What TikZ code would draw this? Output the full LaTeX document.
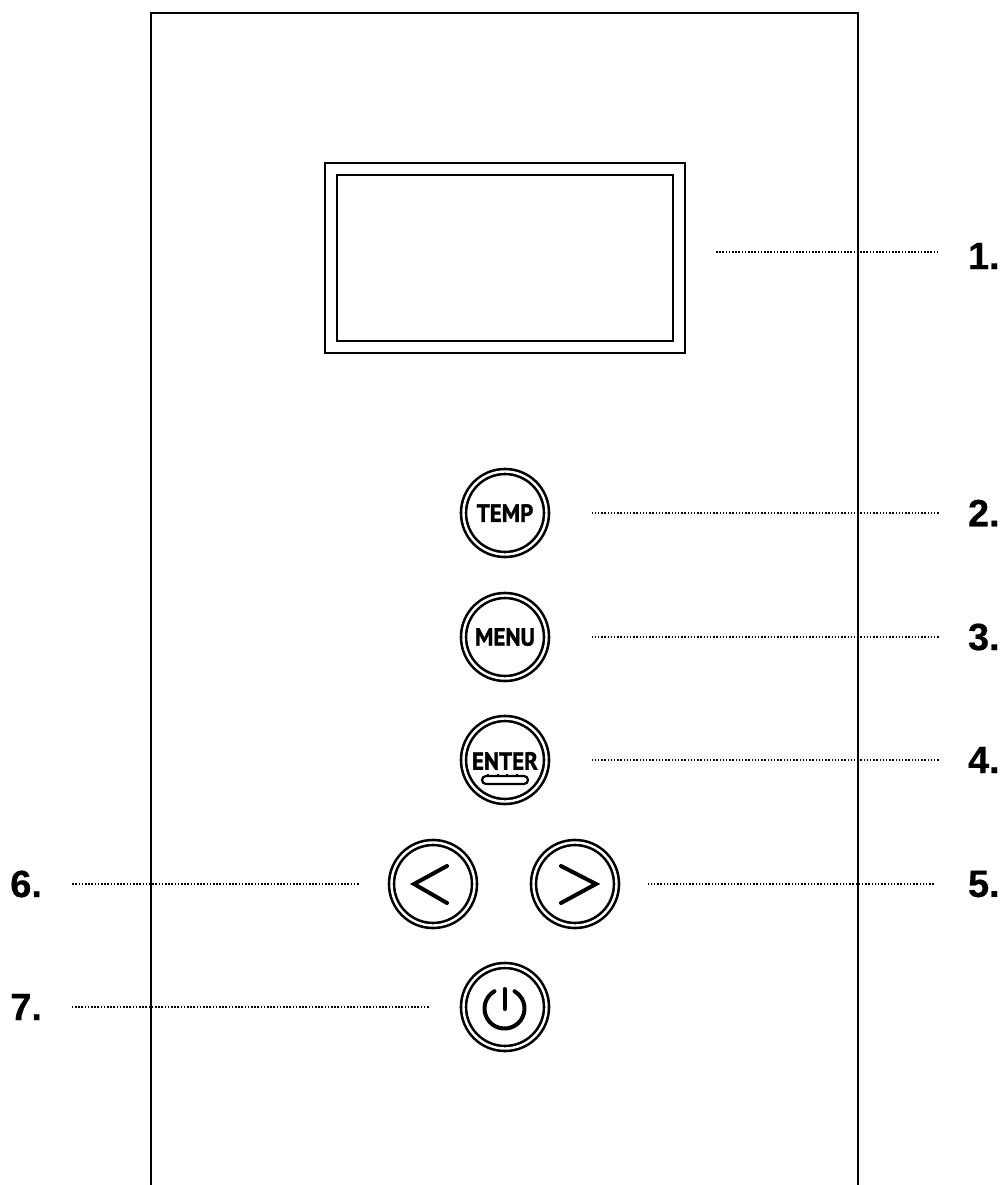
\documentclass[tikz,border=0pt]{standalone}
\usepackage{fontspec}
\setmainfont[BoldFeatures={FakeBold=0.4}]{Liberation Sans}
\newfontfamily\btnfont[FakeStretch=0.92,BoldFeatures={FakeBold=1.2}]{PT Sans}
\usetikzlibrary{shapes,arrows}
\tikzstyle{button} = [circle, draw, line width=2.6pt, double, double distance=2.4pt, minimum size=83pt, inner sep=0pt, outer sep=0pt, font=\btnfont\bfseries\fontsize{25}{25}\selectfont]
\tikzstyle{screen} = [rectangle, draw, line width=2.9pt, inner sep=0pt, outer sep=0pt]
\tikzstyle{tag} = [inner sep=0pt, outer sep=0pt, font=\bfseries\fontsize{38}{38}\selectfont]
\tikzstyle{leader} = [draw, line width=1.4pt, dash pattern=on 1.5pt off 1.7pt]
\tikzstyle{icon} = [draw, line width=4pt, line cap=round, line join=miter]

\begin{document}
\begin{tikzpicture}[x=1pt,y=-1pt]
\useasboundingbox (0,0) rectangle (1001,1185);

\draw [line width=2.8pt] (151,1185) -- (151,13) -- (858,13) -- (858,1185);

\node [screen, minimum width=360pt, minimum height=190pt] (s1) at (505,258) {};
\node [screen, minimum width=336pt, minimum height=166pt] (s2) at (505,258) {};

\node [button] (temp) at (505,513) {TEMP};
\node [button] (menu) at (505,637) {MENU};
\node [button] (enter) at (505,760) {};
\node [button] (left) at (433,884) {};
\node [button] (right) at (575,884) {};
\node [button] (power) at (505,1007) {};

\node [inner sep=0pt, font=\btnfont\bfseries\fontsize{25}{25}\selectfont] (entertext) at (505,761) {ENTER};
\node [draw, rounded rectangle, line width=2.2pt, minimum width=46pt, minimum height=8pt, inner sep=0pt] (enterbar) at (505,780) {};
\draw [line width=2.4pt, dash pattern=on 2pt off 7.5pt] (487,775) -- (525,775);

\path [icon] (447,866) -- (414,884) -- (447,903);
\path [icon] (561,866) -- (596,884) -- (561,903);
\path [icon] (504.5,989) -- (504.5,1009);
\path [icon] (494.5,991.2) arc (-120:-420:20);

\node [tag, anchor=west] (l1) at (968,256) {1.};
\node [tag, anchor=west] (l2) at (968,513) {2.};
\node [tag, anchor=west] (l3) at (968,637) {3.};
\node [tag, anchor=west] (l4) at (968,760) {4.};
\node [tag, anchor=west] (l5) at (968,884) {5.};
\node [tag, anchor=east] (l6) at (42,884) {6.};
\node [tag, anchor=east] (l7) at (42,1007) {7.};

\coordinate (c1) at (716,252);
\path [leader] (c1) -- ([xshift=-31pt]c1 -| l1.west);
\path [leader, shorten <=45pt, shorten >=28pt] (temp) -- (l2);
\path [leader, shorten <=45pt, shorten >=28pt] (menu) -- (l3);
\path [leader, shorten <=45pt, shorten >=28pt] (enter) -- (l4);
\path [leader, shorten <=31pt, shorten >=33pt] (right) -- (l5);
\path [leader, shorten <=33pt, shorten >=30pt] (left) -- (l6);
\path [leader, shorten <=35pt, shorten >=30pt] (power) -- (l7);
\end{tikzpicture}
\end{document}
